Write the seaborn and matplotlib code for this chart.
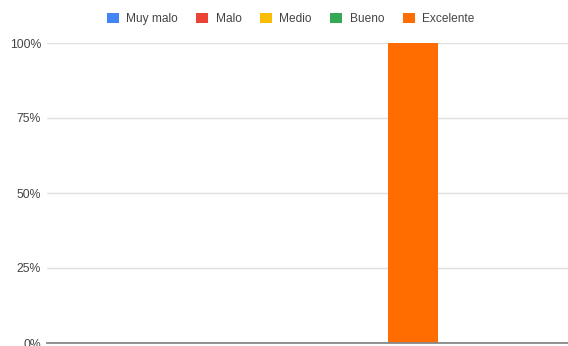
import matplotlib
matplotlib.use("Agg")
import matplotlib.pyplot as plt
import seaborn as sns
import pandas as pd
from matplotlib.patches import Patch
from matplotlib.ticker import PercentFormatter

# Survey ratings: share of responses per rating level
categories = ["Valoración"]
series = ["Muy malo", "Malo", "Medio", "Bueno", "Excelente"]
values = [0, 0, 0, 0, 100]
colors = ["#4285F4", "#EA4335", "#FBBC04", "#34A853", "#FF6D01"]

df = pd.DataFrame({
    "categoria": categories * len(series),
    "serie": series,
    "valor": values,
})

sns.set_theme(style="white")
plt.rcParams["font.family"] = ["Liberation Sans", "DejaVu Sans"]

fig = plt.figure(figsize=(5.68, 3.46), dpi=100)
ax = fig.add_axes([47 / 568, 3 / 346, 521 / 568, 300 / 346])

sns.barplot(data=df, x="categoria", y="valor", hue="serie",
            hue_order=series, palette=colors, ax=ax,
            width=0.8, saturation=1, legend=False, linewidth=0)

ax.set_ylim(0, 100)
ax.set_xlim(-0.851, 0.816)
ax.set_yticks([0, 25, 50, 75, 100])
ax.yaxis.set_major_formatter(PercentFormatter(decimals=0))
ax.tick_params(axis="y", length=0, pad=4.3, labelsize=8.8, labelcolor="#444444")
ax.set_xticks([])
ax.set_xlabel("")
ax.set_ylabel("")
ax.grid(axis="y", color="#e0e0e0", linewidth=1)
ax.set_axisbelow(True)
for side in ["top", "right", "left"]:
    ax.spines[side].set_visible(False)
ax.spines["bottom"].set_color("#888888")
ax.spines["bottom"].set_linewidth(1.3)
ax.spines["bottom"].set_zorder(5)

handles = [Patch(facecolor=c, edgecolor="none") for c in colors]
fig.legend(handles, series, loc="center", bbox_to_anchor=(290.5 / 568, 1 - 19 / 346),
           ncol=5, frameon=False, fontsize=8.6, labelcolor="#444444",
           handlelength=1.0, handleheight=1.0, handletextpad=0.62,
           columnspacing=1.55, borderpad=0, borderaxespad=0)

fig.savefig("out.png", dpi=100)
